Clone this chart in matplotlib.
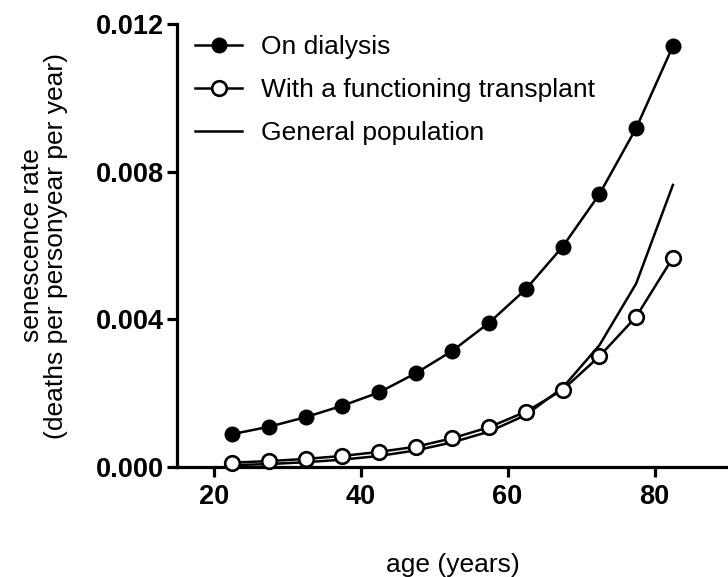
import numpy as np
import matplotlib.pyplot as plt

plt.rcParams['font.family'] = ['Liberation Sans', 'DejaVu Sans']

# ---- data ----
age = [22.5, 27.5, 32.5, 37.5, 42.5, 47.5, 52.5, 57.5, 62.5, 67.5, 72.5, 77.5, 82.5]
dialysis = [0.00089, 0.00109, 0.00135, 0.00166, 0.00202, 0.00254, 0.00315,
            0.00391, 0.00482, 0.00597, 0.00739, 0.00918, 0.0114]
transplant = [0.00012, 0.00016, 0.00022, 0.00030, 0.00041, 0.00055, 0.00078,
              0.00108, 0.00150, 0.00209, 0.00300, 0.00407, 0.00567]
general = [0.00005, 0.00008, 0.00013, 0.00020, 0.00030, 0.00045, 0.00067,
           0.00096, 0.00141, 0.00215, 0.00330, 0.00497, 0.00764]

xticks = [20, 40, 60, 80]
yticks = [0.000, 0.004, 0.008, 0.012]

# ----------------------------------------------------------
fig = plt.figure(figsize=(7.28, 5.77), dpi=100)
ax = fig.add_axes([0.2431, 0.1906, 0.7569, 0.7678])

ax.plot(age, dialysis, color='black', lw=1.8, marker='o', ms=10.5,
        mfc='black', mec='black', label='On dialysis', clip_on=False)
ax.plot(age, transplant, color='black', lw=1.8, marker='o', ms=10.5,
        mfc='white', mec='black', mew=1.9,
        label='With a functioning transplant', clip_on=False, zorder=3)
ax.plot(age, general, color='black', lw=1.8, label='General population')

ax.set_xlim(15, 90)
ax.set_ylim(0, 0.012)
ax.set_xticks(xticks)
ax.set_yticks(yticks)
ax.set_xticklabels([str(t) for t in xticks])
ax.set_yticklabels([f"{t:.3f}" for t in yticks])

for lab in ax.get_xticklabels() + ax.get_yticklabels():
    lab.set_fontweight('bold')
    lab.set_fontsize(19.5)

ax.spines['top'].set_visible(False)
ax.spines['right'].set_visible(False)
ax.spines['left'].set_linewidth(2.3)
ax.spines['bottom'].set_linewidth(2.3)
ax.tick_params(direction='out', length=7.5, width=2.3, pad=2)
ax.tick_params(axis='x', pad=4.5)

ax.set_xlabel('age (years)', fontsize=19, labelpad=31)
ax.set_ylabel('senescence rate\n(deaths per personyear per year)',
              fontsize=19, labelpad=20, linespacing=1.0)

leg = ax.legend(loc='upper left', bbox_to_anchor=(0.0, 1.017), frameon=False,
                fontsize=19, handlelength=1.75, handletextpad=0.75,
                labelspacing=0.72, borderaxespad=0.3)

fig.savefig('out.png', dpi=100)
